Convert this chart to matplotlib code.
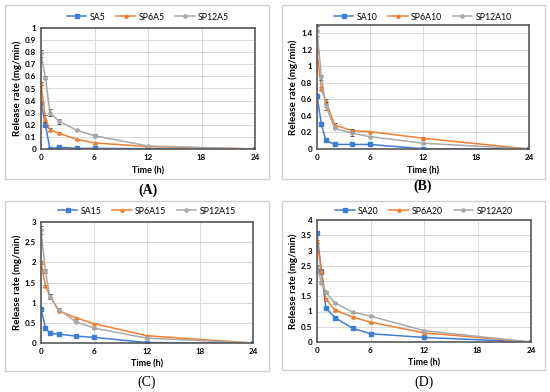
import matplotlib
matplotlib.use("Agg")
from matplotlib import pyplot as plt
from matplotlib.patches import Rectangle

plt.rcParams['font.family'] = ['Lato', 'DejaVu Sans']

time_h = [0, 0.5, 1, 2, 4, 6, 12, 24]

# panel A
sa5 = [0.38, 0.20, 0.0, 0.015, 0.005, 0.005, 0.003, 0.0]
sp6a5 = [0.54, 0.25, 0.16, 0.13, 0.08, 0.05, 0.02, 0.0]
sp12a5 = [0.79, 0.59, 0.30, 0.23, 0.155, 0.11, 0.025, 0.0]
sa5_err = [0.01, 0.02, 0.0, 0.005, 0.0, 0.0, 0.0, 0.0]
sp6a5_err = [0.01, 0.03, 0.01, 0.01, 0.005, 0.005, 0.0, 0.0]
sp12a5_err = [0.03, 0.01, 0.03, 0.02, 0.005, 0.01, 0.005, 0.0]

# panel B
sa10 = [0.64, 0.30, 0.105, 0.055, 0.055, 0.055, 0.003, 0.0]
sp6a10 = [1.17, 0.73, 0.58, 0.29, 0.22, 0.21, 0.13, 0.0]
sp12a10 = [1.43, 0.87, 0.52, 0.25, 0.19, 0.15, 0.07, 0.0]
sa10_err = [0.01, 0.01, 0.01, 0.005, 0.005, 0.005, 0.0, 0.0]
sp6a10_err = [0.02, 0.02, 0.03, 0.02, 0.02, 0.01, 0.02, 0.0]
sp12a10_err = [0.06, 0.03, 0.05, 0.01, 0.03, 0.01, 0.01, 0.0]

# panel C
sa15 = [0.85, 0.38, 0.24, 0.22, 0.17, 0.14, 0.01, 0.0]
sp6a15 = [2.0, 1.42, 1.17, 0.80, 0.62, 0.48, 0.18, 0.0]
sp12a15 = [2.80, 1.78, 1.15, 0.83, 0.52, 0.37, 0.12, 0.0]
sa15_err = [0.02, 0.02, 0.02, 0.01, 0.01, 0.01, 0.0, 0.0]
sp6a15_err = [0.03, 0.03, 0.04, 0.02, 0.02, 0.02, 0.01, 0.0]
sp12a15_err = [0.1, 0.05, 0.06, 0.03, 0.02, 0.02, 0.01, 0.0]

# panel D
sa20 = [3.57, 2.30, 1.12, 0.80, 0.45, 0.27, 0.15, 0.0]
sp6a20 = [3.30, 2.33, 1.40, 1.05, 0.82, 0.65, 0.30, 0.0]
sp12a20 = [2.45, 1.95, 1.63, 1.28, 0.98, 0.85, 0.37, 0.0]
sa20_err = [0.05, 0.05, 0.07, 0.05, 0.02, 0.02, 0.01, 0.0]
sp6a20_err = [0.05, 0.06, 0.04, 0.03, 0.02, 0.02, 0.02, 0.0]
sp12a20_err = [0.06, 0.05, 0.03, 0.02, 0.02, 0.02, 0.02, 0.0]

blue, orange, gray = '#3D7DD8', '#F08030', '#A8A8A8'

W, H = 550, 392
fig = plt.figure(figsize=(5.5, 3.92), dpi=100)


def frame(x0, y0, x1, y1):
    fig.patches.append(Rectangle((x0 / W, 1 - y1 / H), (x1 - x0) / W, (y1 - y0) / H,
                                 transform=fig.transFigure, fill=False,
                                 edgecolor='#D0D0D0', lw=1.0))


def panel(box, names, series, errs, ymax, ystep, legend_y, xlabel_y, label, label_y, bold):
    x0, y0, x1, y1 = box
    ax = fig.add_axes([x0 / W, 1 - y1 / H, (x1 - x0) / W, (y1 - y0) / H])
    markers = ['s', '^', 'o']
    colors = [blue, orange, gray]
    for name, ys, es, m, c in zip(names, series, errs, markers, colors):
        ax.errorbar(time_h, ys, yerr=es, fmt='none', elinewidth=0.7, capsize=1.5,
                    capthick=0.7, ecolor='#505050')
        ax.plot(time_h, ys, color=c, marker=m, markersize=2.3, lw=1.1, label=name)
    ax.set_xlim(0, 24)
    ax.set_ylim(0, ymax)
    ax.set_xticks([0, 6, 12, 18, 24])
    yt = []
    v = 0.0
    while v <= ymax + 1e-9:
        yt.append(round(v, 3))
        v += ystep
    ax.set_yticks(yt)
    ax.set_yticklabels(['%g' % t for t in yt])
    ax.grid(True, color='#D9D9D9', lw=0.7)
    ax.set_axisbelow(True)
    for s in ax.spines.values():
        s.set_color('#595959')
        s.set_linewidth(1.2)
    ax.tick_params(length=0, labelsize=5.8, pad=3.5)
    for t in ax.get_xticklabels() + ax.get_yticklabels():
        t.set_fontweight('bold')
    ax.set_ylabel('Release rate (mg/min)', fontsize=7, fontweight='bold', labelpad=2)
    fig.text((x0 + x1) / 2 / W, 1 - xlabel_y / H, 'Time (h)', fontsize=6.5,
             fontweight='bold', ha='center', va='center')
    ax.legend(loc='center', bbox_to_anchor=(0.5, 1 - (legend_y - y0) / (y1 - y0)),
              bbox_transform=ax.transAxes, ncol=3, frameon=False, fontsize=6.3,
              handlelength=2.2, columnspacing=1.2, handletextpad=0.4, borderaxespad=0)
    fig.text((x0 + x1) / 2 / W, 1 - label_y / H, label, fontsize=10,
             fontweight='bold' if bold else 'normal', family='Liberation Serif',
             ha='center', va='center')
    return ax


frame(5, 5, 269, 179)
frame(282, 5, 545, 179)
frame(5, 201, 269, 371)
frame(282, 201, 545, 370)

panel((41, 28, 255, 149), ['SA5', 'SP6A5', 'SP12A5'], [sa5, sp6a5, sp12a5],
      [sa5_err, sp6a5_err, sp12a5_err], 1.0, 0.1, 17, 171, '(A)', 190, True)
panel((317, 25, 529, 149), ['SA10', 'SP6A10', 'SP12A10'], [sa10, sp6a10, sp12a10],
      [sa10_err, sp6a10_err, sp12a10_err], 1.5, 0.2, 17, 171, '(B)', 186, True)
panel((41, 222, 253, 343), ['SA15', 'SP6A15', 'SP12A15'], [sa15, sp6a15, sp12a15],
      [sa15_err, sp6a15_err, sp12a15_err], 3.0, 0.5, 211, 364, '(C)', 382, False)
panel((317, 220, 531, 342), ['SA20', 'SP6A20', 'SP12A20'], [sa20, sp6a20, sp12a20],
      [sa20_err, sp6a20_err, sp12a20_err], 4.0, 0.5, 211, 363, '(D)', 382, False)

fig.savefig('out.png', dpi=100)
